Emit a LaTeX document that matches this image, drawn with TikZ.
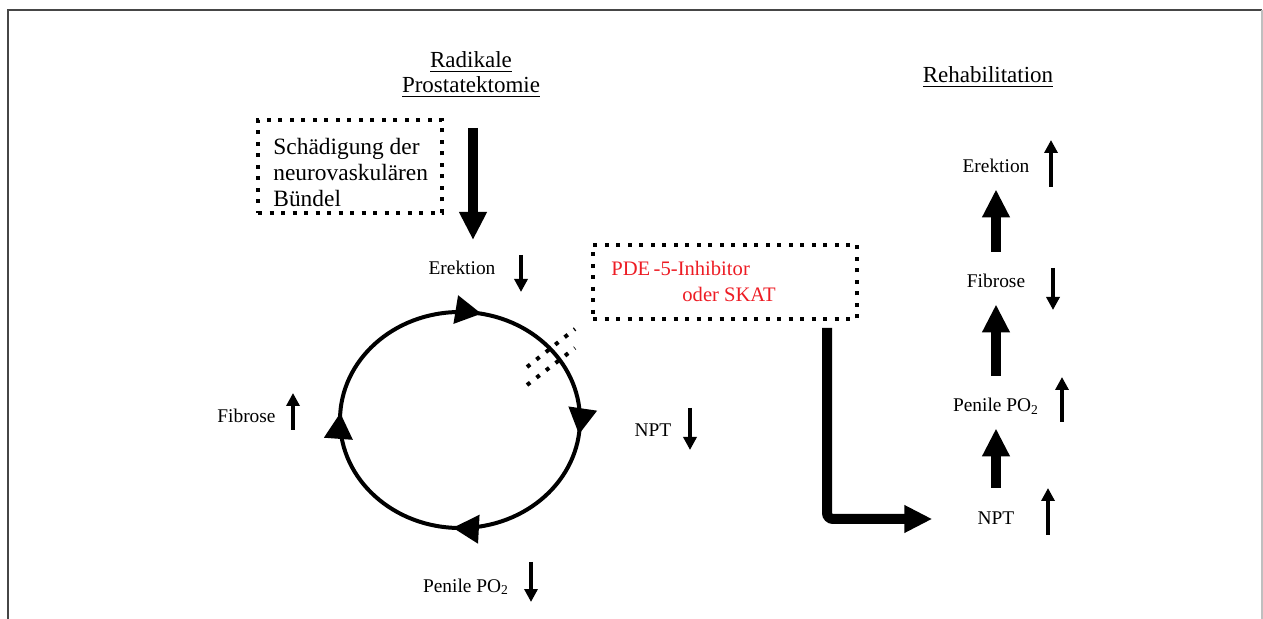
\documentclass[tikz,border=0pt]{standalone}
\usepackage{fontspec}
\setmainfont{Liberation Serif}
\usetikzlibrary{%
  arrows.meta,% Triangle
  decorations.markings,% Pfeile auf dem Kreis
  positioning%
}
\definecolor{pdered}{RGB}{237,28,36}
\definecolor{framegray}{RGB}{70,70,70}

\begin{document}
\begin{tikzpicture}[
    x=0.5pt,y=-0.5pt,
    line join=miter,
    head/.style={font=\fontsize{11.5}{12.5}\selectfont,align=center,
        anchor=base,inner sep=0pt},
    lbl/.style={font=\fontsize{9.7}{11}\selectfont,anchor=base,inner sep=0pt,
        text height=7pt,text depth=2pt},
    dotbox/.style={draw,line width=2pt,dash pattern=on 2pt off 3.75pt},
    dotline/.style={line width=2pt,dash pattern=on 2pt off 4pt},
    bigarrow/.style={-{Triangle[width=13pt,length=14pt]},line width=5pt},
    gap/.style={shorten <=11pt,shorten >=6pt},
    trend/.style={-{Triangle[width=6.5pt,length=6.5pt]},line width=2.2pt},
    ringtip/.tip={Triangle[width=14pt,length=13pt]},
    ring/.style={line width=2pt,postaction={decorate},
        decoration={markings,
          mark=at position 0.02 with {\arrow{ringtip}},
          mark=at position 0.26 with {\arrow{ringtip}},
          mark=at position 0.51 with {\arrow{ringtip}},
          mark=at position 0.78 with {\arrow{ringtip}}}}
  ]
    \useasboundingbox (0,0) rectangle (1263,619);
    \draw[framegray,line width=0.75pt] (8,619) -- (8,10) -- (1262,10);
    \draw[gray!50,line width=0.75pt] (1262,10) -- (1262,619);

    % base = Grundlinie der letzten Zeile
    \node[head] (rp)   at (471,93) {\underline{Radikale}\\\underline{Prostatektomie}};
    \node[head] (reha) at (988,83) {\underline{Rehabilitation}};

    \node[dotbox,minimum width=92pt,minimum height=46.5pt] (dmg) at (350,166.5) {};
    \node[font=\fontsize{11.7}{13}\selectfont,align=left,anchor=base west,
        inner sep=0pt] (dmgtxt) at (273,207)
        {Schädigung der\\neurovaskulären\\Bündel};

    \node[dotbox,minimum width=132pt,minimum height=37pt] (pde) at (725,282) {};
    \node[font=\fontsize{10.3}{13}\selectfont,text=pdered,align=left,
        anchor=base west,inner sep=0pt] (pdetxt) at (611,302)
        {PDE\,-5-Inhibitor\\\hspace*{35.5pt}oder SKAT};

    \coordinate (cut)    at (473,128);
    \coordinate (cutend) at (473,240);
    \draw[bigarrow] (cut) -- (cutend);

    % Kreislauf
    \draw[ring] (460,420) ellipse [x radius=120,y radius=108];
    \draw[dotline] (527,367) -- (575,329);
    \draw[dotline] (527,385) -- (575,348);

    \node[lbl] (ereL) at (462,275)   {Erektion};
    \node[lbl] (nptL) at (653,437)   {NPT};
    \node[lbl] (po2L) at (466,592)   {Penile PO\textsubscript{2}};
    \node[lbl] (fibL) at (246.5,423) {Fibrose};
    \draw[trend] (521,255) -- (521,292);
    \draw[trend] (690,408) -- (690,450);
    \draw[trend] (531,562) -- (531,602);
    \draw[trend] (293,430) -- (293,393);

    % Rehabilitation
    \node[lbl] (ereR) at (996,173) {Erektion};
    \node[lbl] (fibR) at (996,288) {Fibrose};
    \node[lbl] (po2R) at (996,412) {Penile PO\textsubscript{2}};
    \node[lbl] (nptR) at (996,524) {NPT};
    \draw[bigarrow,gap] (nptR.north) -- (po2R.south);
    \draw[bigarrow,gap] (po2R.north) -- (fibR.south);
    \draw[bigarrow,gap] (fibR.north) -- (ereR.south);
    \draw[trend] (1051,187) -- (1051,140);
    \draw[trend] (1053,268) -- (1053,310);
    \draw[trend] (1062,422) -- (1062,377);
    \draw[trend] (1048,535) -- (1048,488);

    \draw[bigarrow,rounded corners=3pt,shorten <=3.5pt,shorten >=22.5pt]
        ([xshift=51pt]pde.south) |- (nptR.west);
\end{tikzpicture}
\end{document}
